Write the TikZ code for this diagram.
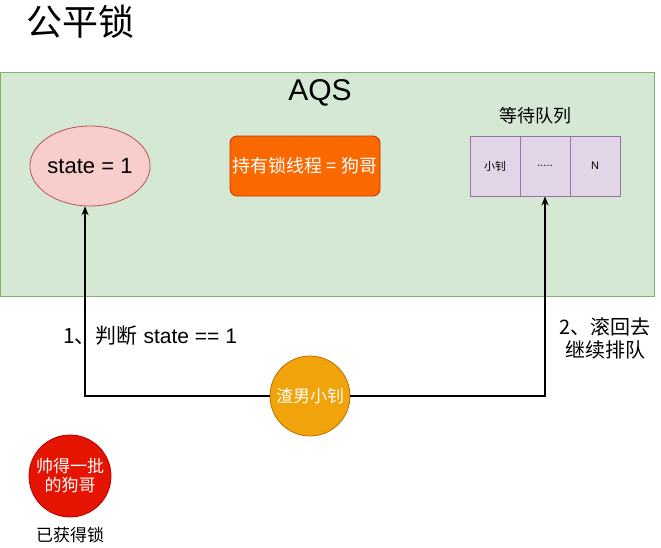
\documentclass[tikz,border=0pt]{standalone}
\usepackage{fontspec}
\setmainfont{Liberation Sans}
\newfontfamily\cjk{Noto Sans CJK SC}
\usetikzlibrary{shapes.geometric,arrows.meta}
\definecolor{grfill}{HTML}{D5E8D4}\definecolor{grline}{HTML}{82B366}
\definecolor{pkfill}{HTML}{F8CECC}\definecolor{pkline}{HTML}{B85450}
\definecolor{orfill}{HTML}{FA6800}\definecolor{orline}{HTML}{C73500}
\definecolor{pufill}{HTML}{E1D5E7}\definecolor{puline}{HTML}{9673A6}
\definecolor{amfill}{HTML}{F0A30A}\definecolor{amline}{HTML}{BD7000}
\definecolor{rdfill}{HTML}{E51400}\definecolor{rdline}{HTML}{B20000}
\newcommand{\fs}[1]{\fontsize{#1}{#1}\selectfont}
\tikzset{
  cell/.style={draw=puline, fill=pufill, line width=0.8pt, minimum width=50pt, minimum height=60pt, inner sep=0pt},
  conn/.style={line width=1.5pt, -{Stealth[length=9pt,width=7pt]}},
  wtxt/.style={text=white, align=center, inner sep=0pt}
}
\begin{document}
\begin{tikzpicture}[x=1pt,y=-1pt]
\useasboundingbox (0,0) rectangle (661,547);
\node (title) at (81,22) {\cjk\fs{36}公平锁};
\node[draw=grline, fill=grfill, line width=0.8pt, minimum width=654pt, minimum height=224pt, anchor=north west, inner sep=0pt] (aqsbox) at (0,72) {};
\node (aqs) at (320,93) {\fs{30}AQS};
\node[ellipse, draw=pkline, fill=pkfill, line width=0.8pt, minimum width=120pt, minimum height=80pt, inner sep=0pt] (state) at (90,166) {\fs{22}state = 1};
\node[draw=orline, fill=orfill, rounded corners=7pt, line width=0.8pt, minimum width=150pt, minimum height=60pt, inner sep=0pt, text=white] (owner) at (305,166) {\cjk\fs{18}持有锁线程 = 狗哥};
\node (qlabel) at (535,116) {\cjk\fs{18}等待队列};
\node[cell] (q1) at (495,166) {\cjk\fs{11}小钊};
\node[cell] (q2) at (545,166) {\fs{11}.....};
\node[cell] (q3) at (595,166) {\fs{11}N};
\node[circle, draw=amline, fill=amfill, line width=0.8pt, minimum size=80pt, inner sep=0pt, text=white] (zn) at (310,396) {\cjk\fs{17}渣男小钊};
\draw[conn] (zn.west) -| (state.263);
\draw[conn] (zn.east) -| (q2.south);
\node (l1) at (150,336) {\fs{21}{\cjk 1、判断} state == 1};
\node[align=center, font={\cjk\fs{20}}] (l2) at (605,338) {2、滚回去\\[3pt]继续排队};
\node[circle, draw=rdline, fill=rdfill, line width=0.8pt, minimum size=82pt, inner sep=0pt, wtxt, font={\cjk\fs{17}}] (gg) at (70,476) {帅得一批\\[2pt]的狗哥};
\node (got) at (70,535) {\cjk\fs{17}已获得锁};
\end{tikzpicture}
\end{document}
